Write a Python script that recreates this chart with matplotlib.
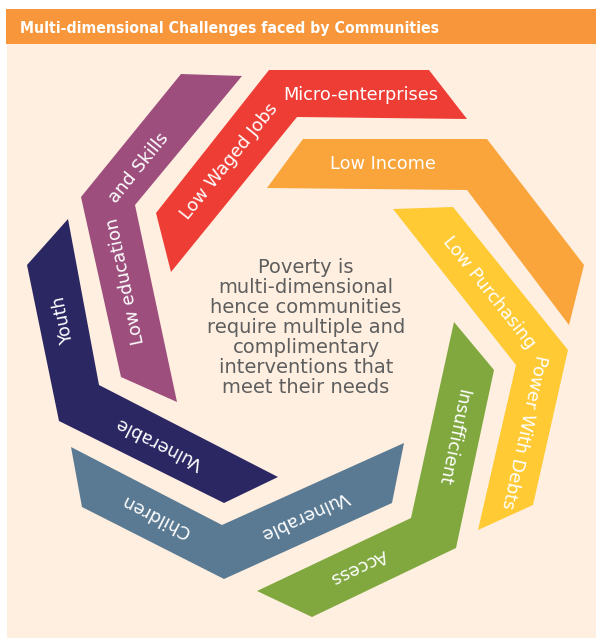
import matplotlib.pyplot as plt
from matplotlib import font_manager
from matplotlib.font_manager import FontProperties
from matplotlib.patches import Polygon, Rectangle

title = "Multi-dimensional Challenges faced by Communities"

center_lines = ["Poverty is", "multi-dimensional", "hence communities",
                "require multiple and", "complimentary",
                "interventions that", "meet their needs"]

# band outlines (pixels, y counted from the top)
youth_x = [68, 99, 278, 224, 59, 27]
youth_y = [219, 385, 477, 503, 421, 265]
edu_x = [181, 242, 135, 177, 121, 81]
edu_y = [74, 76, 205, 402, 377, 197]
jobs_x = [269, 429, 467, 297, 171, 156]
jobs_y = [70, 70, 119, 117, 272, 213]
income_x = [303, 487, 584, 569, 467, 267]
income_y = [139, 139, 265, 325, 190, 188]
purch_x = [393, 453, 568, 533, 478, 516]
purch_y = [209, 207, 350, 505, 530, 365]
access_x = [454, 494, 456, 312, 257, 411]
access_y = [322, 370, 548, 617, 591, 518]
child_x = [71, 222, 404, 392, 224, 82]
child_y = [447, 525, 443, 503, 579, 507]

bands_x = [youth_x, edu_x, jobs_x, income_x, purch_x, access_x, child_x]
bands_y = [youth_y, edu_y, jobs_y, income_y, purch_y, access_y, child_y]
band_colors = ['#2B2763', '#9D4E7C', '#EE3D35', '#F9A53C', '#FFCA34',
               '#80A83F', '#5A7A93']

labels = ["Youth", "Vulnerable", "Low education", "and Skills",
          "Low Waged Jobs", "Micro-enterprises", "Low Income",
          "Low Purchasing", "Power With Debts", "Insufficient", "Access",
          "Vulnerable", "Children"]
# where each label sits (centre x, centre y, angle)
label_pos = [(64, 320, 101), (159, 443, 153), (126, 281, 102),
             (139, 168, 51), (229, 161, 51), (361, 95, 0), (383, 164, 0),
             (489, 292, -51.5), (524, 432, -102.5), (453, 437, -102),
             (359, 567, -154.5), (305, 515, -155.5), (156, 516, 153)]

# header wants a narrow bold face; take one if the machine has it
narrow = []
for f in font_manager.fontManager.ttflist:
    fn = f.fname.lower()
    if ('narrow' in fn or 'condensed' in fn) and 'bold' in fn \
            and 'italic' not in fn and 'oblique' not in fn:
        narrow.append(fn if 'liberation' in fn else 'z' + fn)
if narrow:
    pick = sorted(narrow)[0]
    pick = pick[1:] if pick.startswith('z') else pick
    head_fp = FontProperties(fname=[f.fname for f in font_manager.fontManager.ttflist
                                    if f.fname.lower() == pick][0], size=13)
else:
    head_fp = FontProperties(family='Roboto', weight='bold', size=13)

fig = plt.figure(figsize=(5.96, 6.39), dpi=100)
ax = fig.add_axes([0, 0, 1, 1])
ax.set_xlim(0, 596)
ax.set_ylim(639, 0)
ax.axis('off')

# header strip and cream panel
ax.add_patch(Rectangle((6, 9), 590, 35, facecolor='#F7963B', lw=0))
ax.add_patch(Rectangle((7, 44), 589, 594, facecolor='#FEEFE0', lw=0))

head = ax.text(20, 33, title, color='white', fontproperties=head_fp,
               ha='left', va='baseline')
# squeeze the header to the width it has in the picture
fig.canvas.draw()
w = head.get_window_extent().width
head.set_fontsize(min(13.5, 13 * 420 / w))

for xs, ys, c in zip(bands_x, bands_y, band_colors):
    ax.add_patch(Polygon(list(zip(xs, ys)), closed=True, facecolor=c, lw=0))

for txt, (x, y, ang) in zip(labels, label_pos):
    ax.text(x, y, txt, color='white', fontsize=12.8, rotation=ang,
            rotation_mode='anchor', ha='center', va='center')

for i, line in enumerate(center_lines):
    ax.text(306, 272.7 + 20.1 * i, line, color='#5E5E5E', fontsize=14,
            ha='center', va='baseline')

fig.savefig('out.png', dpi=100)
